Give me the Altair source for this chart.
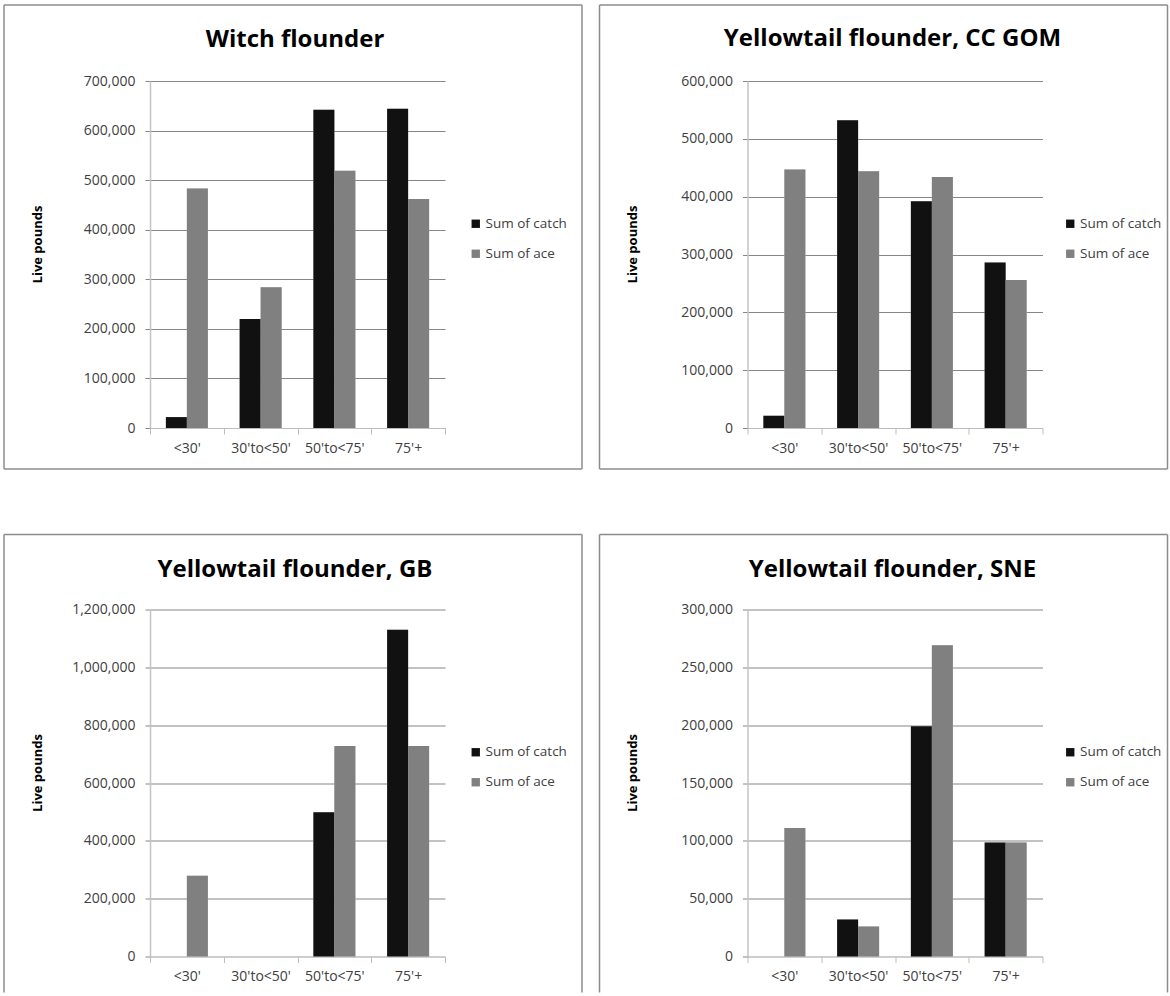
import altair as alt
import pandas as pd

# Vessel size classes and the two summed quantities shown for each stock
categories = ["<30'", "30'to<50'", "50'to<75'", "75'+"]
series_names = ["Sum of catch", "Sum of ace"]
series_colors = ["#111111", "#808080"]

# Live pounds by size class
witch_catch = [22000, 220000, 642000, 644000]
witch_ace = [483000, 284000, 519000, 462000]

cc_gom_catch = [21000, 532000, 392000, 286000]
cc_gom_ace = [447000, 444000, 434000, 256000]

gb_catch = [0, 0, 499000, 1130000]
gb_ace = [279000, 0, 728000, 728000]

sne_catch = [0, 32000, 199000, 98500]
sne_ace = [111000, 26000, 269000, 98500]

PLOT_W = 295
PLOT_H = 347
FONT = "Open Sans"
TEXT_GREY = "#404040"
FRAME_GREY = "#8c8c8c"


def frame_edge(data, **enc):
    return alt.Chart(data).mark_rule(color=FRAME_GREY, strokeWidth=1.5).encode(**enc)


def panel(title, catch, ace, y_max, y_step, left, right, top, bottom, closed,
          title_y, ytitle_x, legend_x):
    rows = pd.DataFrame({
        "size_class": categories + categories,
        "series": [series_names[0]] * len(categories) + [series_names[1]] * len(categories),
        "pounds": catch + ace,
    })
    one = pd.DataFrame({"k": [0]})

    x_enc = alt.X(
        "size_class:N",
        sort=categories,
        title=None,
        scale=alt.Scale(paddingInner=0, paddingOuter=0),
        axis=alt.Axis(
            labelAngle=0,
            labelFont=FONT,
            labelFontSize=14,
            labelColor=TEXT_GREY,
            labelPadding=7,
            tickBand="extent",
            tickColor="#bdbdbd",
            tickSize=6,
            domainColor="#bdbdbd",
            domainWidth=1,
        ),
    )
    x_off = alt.XOffset(
        "series:N",
        sort=series_names,
        scale=alt.Scale(paddingInner=0, paddingOuter=0.756),
    )
    y_enc = alt.Y(
        "pounds:Q",
        scale=alt.Scale(domain=[0, y_max], nice=False),
        axis=alt.Axis(
            values=list(range(0, y_max + 1, y_step)),
            format=",d",
            title="Live pounds",
            titleFont=FONT,
            titleFontSize=13,
            titleFontWeight="bold",
            titleColor="#000000",
            titleX=ytitle_x,
            titleY=163,
            titleAngle=270,
            titleAlign="center",
            titleBaseline="middle",
            labelFont=FONT,
            labelFontSize=14,
            labelColor=TEXT_GREY,
            labelPadding=10,
            tickColor="#868686",
            tickSize=5,
            domainColor="#c4c4c4",
            domainWidth=1.5,
            gridColor=alt.ExprRef("datum.value === 0 ? '#bdbdbd' : '#868686'"),
            gridWidth=1,
        ),
    )

    # soft drop shadow along the right side of each bar
    shadow = alt.Chart(rows).mark_bar(color="#c9c9c9", xOffset=2).encode(
        x=x_enc, xOffset=x_off, y=y_enc,
    )

    bars = alt.Chart(rows).mark_bar().encode(
        x=x_enc,
        xOffset=x_off,
        y=y_enc,
        color=alt.Color(
            "series:N",
            sort=series_names,
            scale=alt.Scale(domain=series_names, range=series_colors),
            legend=alt.Legend(
                title=None,
                orient="none",
                legendX=legend_x,
                legendY=136,
                symbolType="square",
                symbolSize=70,
                symbolStrokeWidth=0,
                labelFont=FONT,
                labelFontSize=13.5,
                labelColor=TEXT_GREY,
                labelOffset=3,
                rowPadding=15,
            ),
        ),
    )

    heading = alt.Chart(one).mark_text(
        font=FONT, fontSize=24, fontWeight="bold", color="#000000",
        align="center", baseline="alphabetic",
    ).encode(x=alt.value(145), y=alt.value(title_y), text=alt.value(title))

    edges = [
        frame_edge(one, x=alt.value(left), x2=alt.value(PLOT_W + right), y=alt.value(top)),
        frame_edge(one, x=alt.value(left), y=alt.value(top), y2=alt.value(PLOT_H + bottom)),
        frame_edge(one, x=alt.value(PLOT_W + right), y=alt.value(top), y2=alt.value(PLOT_H + bottom)),
    ]
    if closed:
        edges.append(frame_edge(one, x=alt.value(left), x2=alt.value(PLOT_W + right),
                                y=alt.value(PLOT_H + bottom)))

    return alt.layer(shadow, bars, heading, *edges).properties(width=PLOT_W, height=PLOT_H)


witch = panel("Witch flounder", witch_catch, witch_ace, 700000, 100000,
              -146, 137, -76, 41, True, -34, -113, 319)
cc_gom = panel("Yellowtail flounder, CC GOM", cc_gom_catch, cc_gom_ace, 600000, 100000,
               -148, 125, -76, 41, True, -35, -115, 316)
gb = panel("Yellowtail flounder, GB", gb_catch, gb_ace, 1200000, 200000,
           -146, 137, -75, 36, False, -33, -113, 319)
sne = panel("Yellowtail flounder, SNE", sne_catch, sne_ace, 300000, 50000,
            -148, 125, -75, 36, False, -33, -115, 316)

top_row = alt.hconcat(witch, cc_gom, spacing=15.5).resolve_scale(
    color="independent").resolve_legend(color="independent")
bottom_row = alt.hconcat(gb, sne, spacing=15.5).resolve_scale(
    color="independent").resolve_legend(color="independent")

chart = alt.vconcat(top_row, bottom_row, spacing=63.5).resolve_scale(
    color="independent"
).resolve_legend(
    color="independent"
).properties(
    padding={"left": 3, "top": 4, "right": 0, "bottom": 0},
    background="#ffffff",
).configure_view(strokeWidth=0)

chart.save("out.html", embed_options={"renderer": "svg", "actions": False})
